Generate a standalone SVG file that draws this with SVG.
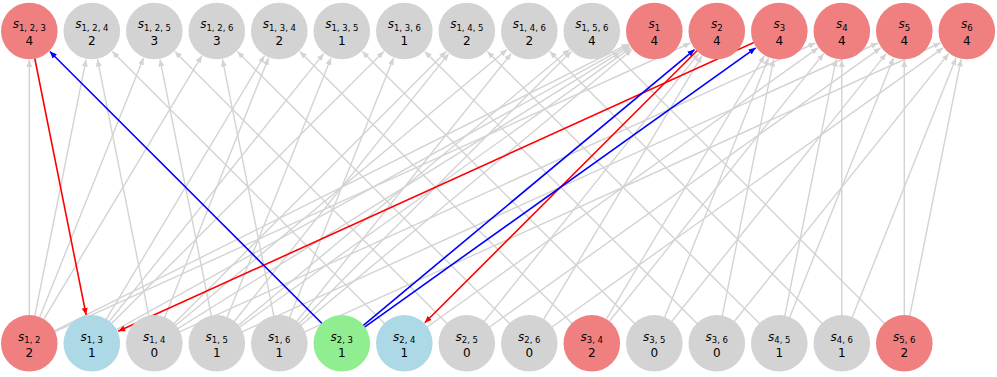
<svg xmlns="http://www.w3.org/2000/svg" width="997" height="377" viewBox="0 0 997 377">
<defs>
<marker id="ag" viewBox="0 0 7 6" refX="7" refY="3" markerWidth="7" markerHeight="6" markerUnits="userSpaceOnUse" orient="auto"><path d="M0,0 L7,3 L0,6 z" fill="#d3d3d3"/></marker>
<marker id="ar" viewBox="0 0 7 6" refX="7" refY="3" markerWidth="7" markerHeight="6" markerUnits="userSpaceOnUse" orient="auto"><path d="M0,0 L7,3 L0,6 z" fill="#ff0000"/></marker>
<marker id="ab" viewBox="0 0 7 6" refX="7" refY="3" markerWidth="7" markerHeight="6" markerUnits="userSpaceOnUse" orient="auto"><path d="M0,0 L7,3 L0,6 z" fill="#0000ff"/></marker>
</defs>
<style>
.g{stroke:#d3d3d3;stroke-width:1.4;fill:none;marker-end:url(#ag)}
.r{stroke:#ff0000;stroke-width:1.6;fill:none;marker-end:url(#ar)}
.b{stroke:#0000ff;stroke-width:1.6;fill:none;marker-end:url(#ab)}
.coral{fill:#f08080}
.gray{fill:#d3d3d3}
.blue{fill:#add8e6}
.green{fill:#90ee90}
text{font-family:"DejaVu Sans",sans-serif;font-size:12px;fill:#000;text-anchor:middle}
.it{font-style:italic}
.sub{font-size:8.5px}
</style>
<rect width="997" height="377" fill="#fff"/>
<g id="connectors">
<line class="g" x1="29.3" y1="343.3" x2="29.3" y2="60"/>
<line class="g" x1="29.3" y1="343.3" x2="86.11" y2="59.43"/>
<line class="g" x1="154.3" y1="343.3" x2="97.49" y2="59.43"/>
<line class="g" x1="404.3" y1="343.3" x2="112.31" y2="51.5"/>
<line class="g" x1="29.3" y1="343.3" x2="143.52" y2="57.92"/>
<line class="g" x1="216.8" y1="343.3" x2="159.99" y2="59.43"/>
<line class="g" x1="466.8" y1="343.3" x2="174.81" y2="51.5"/>
<line class="g" x1="29.3" y1="343.3" x2="201.87" y2="55.86"/>
<line class="g" x1="279.3" y1="343.3" x2="222.49" y2="59.43"/>
<line class="g" x1="529.3" y1="343.3" x2="237.31" y2="51.5"/>
<line class="g" x1="91.8" y1="343.3" x2="264.37" y2="55.86"/>
<line class="g" x1="154.3" y1="343.3" x2="268.52" y2="57.92"/>
<line class="g" x1="591.8" y1="343.3" x2="299.81" y2="51.5"/>
<line class="g" x1="91.8" y1="343.3" x2="323.67" y2="53.64"/>
<line class="g" x1="216.8" y1="343.3" x2="331.02" y2="57.92"/>
<line class="g" x1="654.3" y1="343.3" x2="362.31" y2="51.5"/>
<line class="g" x1="91.8" y1="343.3" x2="383.79" y2="51.5"/>
<line class="g" x1="279.3" y1="343.3" x2="393.52" y2="57.92"/>
<line class="g" x1="716.8" y1="343.3" x2="424.81" y2="51.5"/>
<line class="g" x1="154.3" y1="343.3" x2="446.29" y2="51.5"/>
<line class="g" x1="216.8" y1="343.3" x2="448.67" y2="53.64"/>
<line class="g" x1="779.3" y1="343.3" x2="487.31" y2="51.5"/>
<line class="g" x1="154.3" y1="343.3" x2="507.02" y2="49.56"/>
<line class="g" x1="279.3" y1="343.3" x2="511.17" y2="53.64"/>
<line class="g" x1="841.8" y1="343.3" x2="549.81" y2="51.5"/>
<line class="g" x1="216.8" y1="343.3" x2="569.52" y2="49.56"/>
<line class="g" x1="279.3" y1="343.3" x2="571.29" y2="51.5"/>
<line class="g" x1="904.3" y1="343.3" x2="612.31" y2="51.5"/>
<line class="g" x1="29.3" y1="343.3" x2="628.36" y2="43.96"/>
<line class="g" x1="91.8" y1="343.3" x2="628.95" y2="45.08"/>
<line class="g" x1="154.3" y1="343.3" x2="629.70" y2="46.36"/>
<line class="g" x1="216.8" y1="343.3" x2="630.69" y2="47.85"/>
<line class="g" x1="279.3" y1="343.3" x2="632.02" y2="49.56"/>
<line class="g" x1="29.3" y1="343.3" x2="690.40" y2="42.99"/>
<line class="g" x1="466.8" y1="343.3" x2="698.67" y2="53.64"/>
<line class="g" x1="529.3" y1="343.3" x2="701.87" y2="55.86"/>
<line class="g" x1="591.8" y1="343.3" x2="764.37" y2="55.86"/>
<line class="g" x1="654.3" y1="343.3" x2="768.52" y2="57.92"/>
<line class="g" x1="716.8" y1="343.3" x2="773.61" y2="59.43"/>
<line class="g" x1="154.3" y1="343.3" x2="815.40" y2="42.99"/>
<line class="g" x1="404.3" y1="343.3" x2="818.19" y2="47.85"/>
<line class="g" x1="591.8" y1="343.3" x2="823.67" y2="53.64"/>
<line class="g" x1="779.3" y1="343.3" x2="836.11" y2="59.43"/>
<line class="g" x1="841.8" y1="343.3" x2="841.8" y2="60"/>
<line class="g" x1="216.8" y1="343.3" x2="877.90" y2="42.99"/>
<line class="g" x1="466.8" y1="343.3" x2="880.69" y2="47.85"/>
<line class="g" x1="654.3" y1="343.3" x2="886.17" y2="53.64"/>
<line class="g" x1="779.3" y1="343.3" x2="893.52" y2="57.92"/>
<line class="g" x1="904.3" y1="343.3" x2="904.3" y2="60"/>
<line class="g" x1="279.3" y1="343.3" x2="940.40" y2="42.99"/>
<line class="g" x1="529.3" y1="343.3" x2="943.19" y2="47.85"/>
<line class="g" x1="716.8" y1="343.3" x2="948.67" y2="53.64"/>
<line class="g" x1="841.8" y1="343.3" x2="956.02" y2="57.92"/>
<line class="g" x1="904.3" y1="343.3" x2="961.11" y2="59.43"/>
<line class="r" x1="29.3" y1="31" x2="86.11" y2="314.87"/>
<line class="r" x1="779.3" y1="31" x2="118.2" y2="331.31"/>
<line class="r" x1="716.8" y1="31" x2="424.81" y2="322.8"/>
<line class="b" x1="341.8" y1="343.3" x2="49.81" y2="51.5"/>
<line class="b" x1="341.8" y1="343.3" x2="694.52" y2="49.56"/>
<line class="b" x1="341.8" y1="343.3" x2="755.69" y2="47.85"/>
</g>
<g id="n-s123"><circle class="coral" cx="29.3" cy="31" r="28.3"/><text x="29.3" y="28.3"><tspan class="it">s</tspan><tspan class="sub" dy="2.4">1, 2, 3</tspan></text><text x="29.3" y="45">4</text></g>
<g id="n-s124"><circle class="gray" cx="91.8" cy="31" r="28.3"/><text x="91.8" y="28.3"><tspan class="it">s</tspan><tspan class="sub" dy="2.4">1, 2, 4</tspan></text><text x="91.8" y="45">2</text></g>
<g id="n-s125"><circle class="gray" cx="154.3" cy="31" r="28.3"/><text x="154.3" y="28.3"><tspan class="it">s</tspan><tspan class="sub" dy="2.4">1, 2, 5</tspan></text><text x="154.3" y="45">3</text></g>
<g id="n-s126"><circle class="gray" cx="216.8" cy="31" r="28.3"/><text x="216.8" y="28.3"><tspan class="it">s</tspan><tspan class="sub" dy="2.4">1, 2, 6</tspan></text><text x="216.8" y="45">3</text></g>
<g id="n-s134"><circle class="gray" cx="279.3" cy="31" r="28.3"/><text x="279.3" y="28.3"><tspan class="it">s</tspan><tspan class="sub" dy="2.4">1, 3, 4</tspan></text><text x="279.3" y="45">2</text></g>
<g id="n-s135"><circle class="gray" cx="341.8" cy="31" r="28.3"/><text x="341.8" y="28.3"><tspan class="it">s</tspan><tspan class="sub" dy="2.4">1, 3, 5</tspan></text><text x="341.8" y="45">1</text></g>
<g id="n-s136"><circle class="gray" cx="404.3" cy="31" r="28.3"/><text x="404.3" y="28.3"><tspan class="it">s</tspan><tspan class="sub" dy="2.4">1, 3, 6</tspan></text><text x="404.3" y="45">1</text></g>
<g id="n-s145"><circle class="gray" cx="466.8" cy="31" r="28.3"/><text x="466.8" y="28.3"><tspan class="it">s</tspan><tspan class="sub" dy="2.4">1, 4, 5</tspan></text><text x="466.8" y="45">2</text></g>
<g id="n-s146"><circle class="gray" cx="529.3" cy="31" r="28.3"/><text x="529.3" y="28.3"><tspan class="it">s</tspan><tspan class="sub" dy="2.4">1, 4, 6</tspan></text><text x="529.3" y="45">2</text></g>
<g id="n-s156"><circle class="gray" cx="591.8" cy="31" r="28.3"/><text x="591.8" y="28.3"><tspan class="it">s</tspan><tspan class="sub" dy="2.4">1, 5, 6</tspan></text><text x="591.8" y="45">4</text></g>
<g id="n-s1"><circle class="coral" cx="654.3" cy="31" r="28.3"/><text x="654.3" y="28.3"><tspan class="it">s</tspan><tspan class="sub" dy="2.4">1</tspan></text><text x="654.3" y="45">4</text></g>
<g id="n-s2"><circle class="coral" cx="716.8" cy="31" r="28.3"/><text x="716.8" y="28.3"><tspan class="it">s</tspan><tspan class="sub" dy="2.4">2</tspan></text><text x="716.8" y="45">4</text></g>
<g id="n-s3"><circle class="coral" cx="779.3" cy="31" r="28.3"/><text x="779.3" y="28.3"><tspan class="it">s</tspan><tspan class="sub" dy="2.4">3</tspan></text><text x="779.3" y="45">4</text></g>
<g id="n-s4"><circle class="coral" cx="841.8" cy="31" r="28.3"/><text x="841.8" y="28.3"><tspan class="it">s</tspan><tspan class="sub" dy="2.4">4</tspan></text><text x="841.8" y="45">4</text></g>
<g id="n-s5"><circle class="coral" cx="904.3" cy="31" r="28.3"/><text x="904.3" y="28.3"><tspan class="it">s</tspan><tspan class="sub" dy="2.4">5</tspan></text><text x="904.3" y="45">4</text></g>
<g id="n-s6"><circle class="coral" cx="966.8" cy="31" r="28.3"/><text x="966.8" y="28.3"><tspan class="it">s</tspan><tspan class="sub" dy="2.4">6</tspan></text><text x="966.8" y="45">4</text></g>
<g id="n-s12"><circle class="coral" cx="29.3" cy="343.3" r="28.3"/><text x="29.3" y="340.6"><tspan class="it">s</tspan><tspan class="sub" dy="2.4">1, 2</tspan></text><text x="29.3" y="357.3">2</text></g>
<g id="n-s13"><circle class="blue" cx="91.8" cy="343.3" r="28.3"/><text x="91.8" y="340.6"><tspan class="it">s</tspan><tspan class="sub" dy="2.4">1, 3</tspan></text><text x="91.8" y="357.3">1</text></g>
<g id="n-s14"><circle class="gray" cx="154.3" cy="343.3" r="28.3"/><text x="154.3" y="340.6"><tspan class="it">s</tspan><tspan class="sub" dy="2.4">1, 4</tspan></text><text x="154.3" y="357.3">0</text></g>
<g id="n-s15"><circle class="gray" cx="216.8" cy="343.3" r="28.3"/><text x="216.8" y="340.6"><tspan class="it">s</tspan><tspan class="sub" dy="2.4">1, 5</tspan></text><text x="216.8" y="357.3">1</text></g>
<g id="n-s16"><circle class="gray" cx="279.3" cy="343.3" r="28.3"/><text x="279.3" y="340.6"><tspan class="it">s</tspan><tspan class="sub" dy="2.4">1, 6</tspan></text><text x="279.3" y="357.3">1</text></g>
<g id="n-s23"><circle class="green" cx="341.8" cy="343.3" r="28.3"/><text x="341.8" y="340.6"><tspan class="it">s</tspan><tspan class="sub" dy="2.4">2, 3</tspan></text><text x="341.8" y="357.3">1</text></g>
<g id="n-s24"><circle class="blue" cx="404.3" cy="343.3" r="28.3"/><text x="404.3" y="340.6"><tspan class="it">s</tspan><tspan class="sub" dy="2.4">2, 4</tspan></text><text x="404.3" y="357.3">1</text></g>
<g id="n-s25"><circle class="gray" cx="466.8" cy="343.3" r="28.3"/><text x="466.8" y="340.6"><tspan class="it">s</tspan><tspan class="sub" dy="2.4">2, 5</tspan></text><text x="466.8" y="357.3">0</text></g>
<g id="n-s26"><circle class="gray" cx="529.3" cy="343.3" r="28.3"/><text x="529.3" y="340.6"><tspan class="it">s</tspan><tspan class="sub" dy="2.4">2, 6</tspan></text><text x="529.3" y="357.3">0</text></g>
<g id="n-s34"><circle class="coral" cx="591.8" cy="343.3" r="28.3"/><text x="591.8" y="340.6"><tspan class="it">s</tspan><tspan class="sub" dy="2.4">3, 4</tspan></text><text x="591.8" y="357.3">2</text></g>
<g id="n-s35"><circle class="gray" cx="654.3" cy="343.3" r="28.3"/><text x="654.3" y="340.6"><tspan class="it">s</tspan><tspan class="sub" dy="2.4">3, 5</tspan></text><text x="654.3" y="357.3">0</text></g>
<g id="n-s36"><circle class="gray" cx="716.8" cy="343.3" r="28.3"/><text x="716.8" y="340.6"><tspan class="it">s</tspan><tspan class="sub" dy="2.4">3, 6</tspan></text><text x="716.8" y="357.3">0</text></g>
<g id="n-s45"><circle class="gray" cx="779.3" cy="343.3" r="28.3"/><text x="779.3" y="340.6"><tspan class="it">s</tspan><tspan class="sub" dy="2.4">4, 5</tspan></text><text x="779.3" y="357.3">1</text></g>
<g id="n-s46"><circle class="gray" cx="841.8" cy="343.3" r="28.3"/><text x="841.8" y="340.6"><tspan class="it">s</tspan><tspan class="sub" dy="2.4">4, 6</tspan></text><text x="841.8" y="357.3">1</text></g>
<g id="n-s56"><circle class="coral" cx="904.3" cy="343.3" r="28.3"/><text x="904.3" y="340.6"><tspan class="it">s</tspan><tspan class="sub" dy="2.4">5, 6</tspan></text><text x="904.3" y="357.3">2</text></g>
</svg>
